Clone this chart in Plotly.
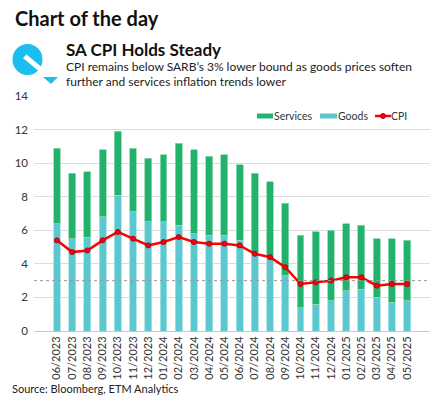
import plotly.graph_objects as go

months = ["06/2023", "07/2023", "08/2023", "09/2023", "10/2023", "11/2023", "12/2023",
          "01/2024", "02/2024", "03/2024", "04/2024", "05/2024", "06/2024", "07/2024",
          "08/2024", "09/2024", "10/2024", "11/2024", "12/2024", "01/2025", "02/2025",
          "03/2025", "04/2025", "05/2025"]
goods = [6.4, 5.5, 5.6, 6.8, 8.1, 7.1, 6.5, 6.5, 6.3, 5.8, 5.7, 5.7, 5.4, 4.7,
         4.4, 3.3, 1.4, 1.6, 1.8, 2.4, 2.5, 2.0, 1.7, 1.8]
services = [4.5, 3.9, 3.9, 4.0, 3.8, 3.8, 3.8, 4.0, 4.9, 5.0, 4.7, 4.8, 4.5, 4.7,
            4.5, 4.3, 4.3, 4.3, 4.2, 4.0, 3.8, 3.5, 3.8, 3.6]
cpi = [5.4, 4.7, 4.8, 5.4, 5.9, 5.5, 5.1, 5.3, 5.6, 5.3, 5.2, 5.2, 5.1, 4.6,
       4.4, 3.8, 2.8, 2.9, 3.0, 3.2, 3.2, 2.7, 2.8, 2.8]
y_ticks = [0, 2, 4, 6, 8, 10, 12, 14]
target_lower = 3

W, H = 442, 396
ML, MR, MT, MB = 34, 12, 96, 65
PW, PH = W - ML - MR, H - MT - MB

GOODS_C = "#5BC8CF"
SERV_C = "#21B26B"
CPI_C = "#FF0000"


def px(x, y):
    return (x - ML) / PW, 1 - (y - MT) / PH


FONT = "Lato"
fig = go.Figure()
fig.add_trace(go.Bar(x=months, y=goods, name="Goods",
                     marker=dict(color=GOODS_C, line=dict(color="#A8E2E5", width=0.8))))
fig.add_trace(go.Bar(x=months, y=services, name="Services",
                     marker=dict(color=SERV_C, line=dict(color="#8FD9B1", width=0.8))))
fig.add_trace(go.Scatter(x=months, y=cpi, name="CPI", mode="lines+markers",
                         line=dict(color=CPI_C, width=2.5),
                         marker=dict(color=CPI_C, size=5,
                                     line=dict(color="#B00020", width=1))))

shapes = [dict(type="line", xref="paper", yref="y", x0=0, x1=1,
               y0=target_lower, y1=target_lower,
               line=dict(color="#9A9A9A", width=1, dash="dot"), layer="above")]

# logo
cx, cy = px(27.5, 59.5)
rx, ry = 15 / PW, 15.5 / PH
shapes.append(dict(type="circle", xref="paper", yref="paper",
                   x0=cx - rx, x1=cx + rx, y0=cy - ry, y1=cy + ry,
                   fillcolor="#1CBEF0", line=dict(width=0), layer="above"))
pts = [px(23, 58), px(26.5, 54.5), px(44, 69), px(41, 73)]
path = "M " + " L ".join(f"{a},{b}" for a, b in pts) + " Z"
shapes.append(dict(type="path", xref="paper", yref="paper", path=path,
                   fillcolor="white", line=dict(width=0), layer="above"))
tri = [px(43, 77), px(58, 77), px(51, 84)]
path2 = "M " + " L ".join(f"{a},{b}" for a, b in tri) + " Z"
shapes.append(dict(type="path", xref="paper", yref="paper", path=path2,
                   fillcolor="#1CBEF0", line=dict(width=0), layer="above"))


def rect(x0, y0, x1, y1, color):
    a0, b0 = px(x0, y0)
    a1, b1 = px(x1, y1)
    shapes.append(dict(type="rect", xref="paper", yref="paper", x0=a0, x1=a1, y0=b1, y1=b0,
                       fillcolor=color, line=dict(width=0), layer="above"))


annotations = []


def text(x, y, s, size, color="#1a1a1a", bold=False, anchor="left"):
    xp, yp = px(x, y)
    annotations.append(dict(xref="paper", yref="paper", x=xp, y=yp, text=(f"<b>{s}</b>" if bold else s),
                            showarrow=False, xanchor=anchor, yanchor="middle",
                            font=dict(family=FONT, size=size, color=color), align="left",
                            borderpad=0))


text(14, 18, "Chart of the day", 20, "#111", bold=True)
text(65, 50, "SA CPI Holds Steady", 17, "#111", bold=True)
text(65, 67, "CPI remains below SARB\u2019s 3% lower bound as goods prices soften", 12, "#222")
text(65, 81, "further and services inflation trends lower", 12, "#222")
text(11, 388, "Source: Bloomberg, ETM Analytics", 11, "#222")

# legend (drawn manually for compact spacing)
LY = 116
rect(257, LY - 2.5, 273, LY + 2.5, SERV_C)
text(273, LY, "Services", 10.5, "#333")
rect(320, LY - 2.5, 337, LY + 2.5, GOODS_C)
text(337, LY, "Goods", 10.5, "#333")
a0, b0 = px(375, LY)
a1, _ = px(391, LY)
shapes.append(dict(type="line", xref="paper", yref="paper", x0=a0, x1=a1, y0=b0, y1=b0,
                   line=dict(color=CPI_C, width=2.5), layer="above"))
mx, my = px(383, LY)
mr = 2.5
shapes.append(dict(type="circle", xref="paper", yref="paper",
                   x0=mx - mr / PW, x1=mx + mr / PW, y0=my - mr / PH, y1=my + mr / PH,
                   fillcolor=CPI_C, line=dict(color="#B00020", width=1), layer="above"))
text(390, LY, "CPI", 10.5, "#333")

fig.update_layout(
    width=W, height=H, barmode="stack", bargap=0.55,
    margin=dict(l=ML, r=MR, t=MT, b=MB),
    paper_bgcolor="white", plot_bgcolor="white",
    font=dict(family=FONT, size=11, color="#333"),
    showlegend=False,
    xaxis=dict(tickangle=-90, showgrid=False, showline=True, linecolor="#C8C8C8",
               ticks="", tickfont=dict(size=11, color="#333")),
    yaxis=dict(range=[0, 14], tickvals=y_ticks, showgrid=True, gridcolor="#DCDCDC",
               zeroline=False, ticks="", ticklabelstandoff=5,
               tickfont=dict(size=11.5, color="#333")),
    shapes=shapes, annotations=annotations,
)
fig.write_html("out.html", config={"displayModeBar": False},
               post_script="document.body.style.margin='0';document.body.style.overflow='hidden';")
